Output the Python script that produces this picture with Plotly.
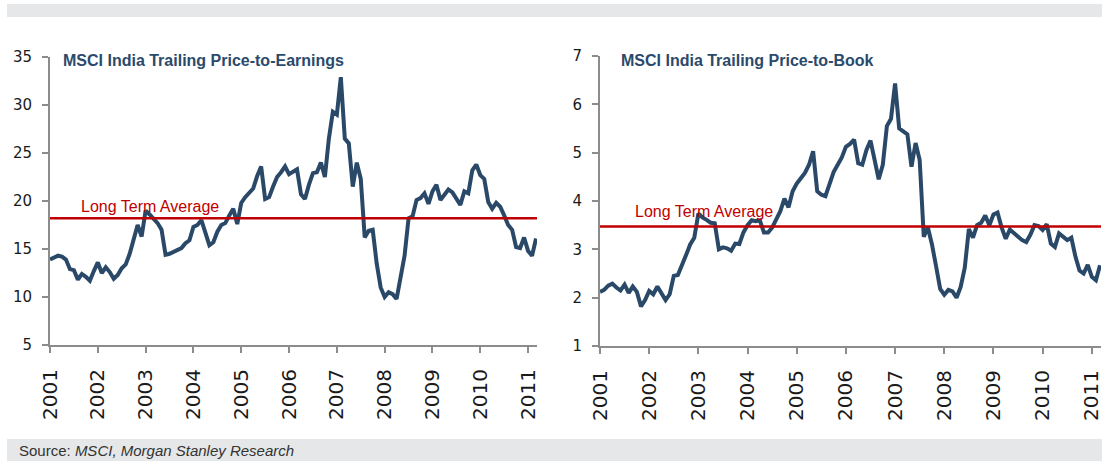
import plotly.graph_objects as go
import pandas as pd

# ---------------- data ----------------
months = pd.date_range("2001-01-01", "2011-03-01", freq="MS")

pe_values = [
    13.9, 14.1, 14.3, 14.2, 13.9, 12.9, 12.8, 11.8, 12.4, 12.1, 11.7, 12.7,
    13.6, 12.5, 13.1, 12.6, 11.9, 12.3, 13.0, 13.4, 14.5, 16.0, 17.5, 16.3,
    19.0, 18.6, 18.2, 17.7, 17.0, 14.4, 14.5, 14.7, 14.9, 15.1, 15.6, 15.9,
    17.3, 17.5, 18.0, 16.6, 15.4, 15.7, 16.8, 17.5, 17.7, 18.5, 19.2, 17.6,
    19.8, 20.4, 20.9, 21.3, 22.6, 23.6, 20.2, 20.4, 21.5, 22.5, 23.0, 23.6,
    22.8, 23.1, 23.3, 20.7, 20.2, 21.7, 22.9, 23.0, 24.0, 22.5, 26.5, 29.3,
    29.0, 32.9, 26.5, 26.0, 21.5, 24.0, 22.3, 16.2, 16.9, 17.0, 13.5, 11.0,
    10.0, 10.5, 10.3, 9.8, 12.0, 14.3, 18.2, 18.4, 20.1, 20.3, 20.8, 19.7,
    21.0, 21.7, 20.1, 20.6, 21.2, 20.9, 20.2, 19.6, 21.0, 20.8, 23.2, 23.8,
    22.7, 22.3, 19.9, 19.2, 19.8, 19.4, 18.5, 17.5, 17.0, 15.2, 15.1, 16.2,
    14.8, 14.3, 16.1,
]

pb_values = [
    2.12, 2.16, 2.25, 2.29, 2.21, 2.15, 2.27, 2.10, 2.23, 2.12, 1.82, 1.95,
    2.14, 2.07, 2.23, 2.10, 1.95, 2.07, 2.45, 2.47, 2.70, 2.88, 3.10, 3.24,
    3.74, 3.66, 3.61, 3.55, 3.54, 3.00, 3.04, 3.02, 2.97, 3.12, 3.11, 3.35,
    3.50, 3.60, 3.58, 3.60, 3.35, 3.35, 3.45, 3.62, 3.79, 4.05, 3.87, 4.20,
    4.36, 4.47, 4.58, 4.75, 5.03, 4.20, 4.13, 4.10, 4.35, 4.60, 4.75, 4.90,
    5.12, 5.18, 5.27, 4.78, 4.75, 5.05, 5.25, 4.85, 4.45, 4.75, 5.55, 5.70,
    6.43, 5.50, 5.43, 5.38, 4.71, 5.20, 4.85, 3.26, 3.45, 3.10, 2.65, 2.18,
    2.06, 2.16, 2.13, 2.00, 2.22, 2.62, 3.42, 3.24, 3.50, 3.55, 3.70, 3.50,
    3.72, 3.76, 3.45, 3.22, 3.41, 3.34, 3.25, 3.19, 3.15, 3.30, 3.50, 3.48,
    3.40, 3.52, 3.12, 3.05, 3.33, 3.25, 3.19, 3.24, 2.85, 2.56, 2.50, 2.68,
    2.43, 2.36, 2.67,
]

pe_long_term_avg = 18.2
pb_long_term_avg = 3.47

year_ticks = list(range(2001, 2012))
year_labels = [str(y) for y in year_ticks]

pe_title = "MSCI India Trailing Price-to-Earnings"
pb_title = "MSCI India Trailing Price-to-Book"
avg_label = "Long Term Average"
source_text = "Source: <i>MSCI, Morgan Stanley Research</i>"

# --------------- figure ----------------
W, H = 1102, 461
x_num = [m.year + (m.month - 1) / 12 for m in months]

LINE_COLOR = "#2a4968"
RED = "#c00000"
AXIS_COLOR = "#8c8c8c"
X_TICK_FONT = dict(family="DejaVu Sans, Liberation Sans, sans-serif", size=20, color="#1a1a1a")
Y_TICK_FONT = dict(family="DejaVu Sans, Liberation Sans, sans-serif", size=15, color="#1a1a1a")
TITLE_FONT = dict(family="Liberation Sans Narrow, Arial Narrow, Liberation Sans, sans-serif",
                  size=16, color="#2b4a6b")
LABEL_FONT = dict(family="Liberation Sans, Arial, sans-serif", size=16, color=RED)

def px_x(p):
    return p / W

def px_y(p):
    return 1 - p / H

fig = go.Figure()

x_end = x_num[-1]

fig.add_trace(go.Scatter(x=x_num, y=pe_values, mode="lines",
                         line=dict(color=LINE_COLOR, width=4),
                         xaxis="x", yaxis="y", showlegend=False))
fig.add_trace(go.Scatter(x=[2001, x_end + 0.02], y=[pe_long_term_avg] * 2, mode="lines",
                         line=dict(color=RED, width=2.5),
                         xaxis="x", yaxis="y", showlegend=False))
fig.add_trace(go.Scatter(x=x_num, y=pb_values, mode="lines",
                         line=dict(color=LINE_COLOR, width=4),
                         xaxis="x2", yaxis="y2", showlegend=False))
fig.add_trace(go.Scatter(x=[2001, x_end + 0.02], y=[pb_long_term_avg] * 2, mode="lines",
                         line=dict(color=RED, width=2.5),
                         xaxis="x2", yaxis="y2", showlegend=False))

common_x = dict(tickmode="array", tickvals=year_ticks, ticktext=year_labels,
                tickangle=-90, ticks="outside", ticklen=6, tickwidth=2,
                tickcolor=AXIS_COLOR, showline=True, linecolor=AXIS_COLOR,
                linewidth=2, showgrid=False, zeroline=False, tickfont=X_TICK_FONT,
                ticklabelstandoff=8, ticklabeloverflow="allow", automargin=False,
                range=[2001, x_end + 0.02], fixedrange=True)
common_y = dict(ticks="outside", ticklen=6, tickwidth=2, tickcolor=AXIS_COLOR,
                showline=True, linecolor=AXIS_COLOR, linewidth=2, showgrid=False,
                zeroline=False, tickfont=Y_TICK_FONT, ticklabelstandoff=7,
                automargin=False, fixedrange=True)

fig.update_layout(
    template="none",
    width=W, height=H,
    margin=dict(l=0, r=0, t=0, b=0, autoexpand=False),
    paper_bgcolor="white", plot_bgcolor="white",
    hovermode=False,
    xaxis=dict(domain=[px_x(50), px_x(537)], anchor="y", **common_x),
    yaxis=dict(domain=[px_y(345), px_y(57)], anchor="x", range=[5, 35],
               tickvals=[5, 10, 15, 20, 25, 30, 35], **common_y),
    xaxis2=dict(domain=[px_x(600), px_x(1101)], anchor="y2", **common_x),
    yaxis2=dict(domain=[px_y(346), px_y(56)], anchor="x2", range=[1, 7],
                tickvals=[1, 2, 3, 4, 5, 6, 7], **common_y),
    shapes=[
        dict(type="rect", xref="paper", yref="paper",
             x0=px_x(7), x1=1, y0=px_y(17), y1=px_y(4),
             fillcolor="#e6e7e8", line=dict(width=0), layer="below"),
        dict(type="rect", xref="paper", yref="paper",
             x0=px_x(7), x1=1, y0=0, y1=px_y(439),
             fillcolor="#e6e7e8", line=dict(width=0), layer="below"),
    ],
    annotations=[
        dict(text=f"<b>{pe_title}</b>", xref="paper", yref="paper",
             x=px_x(61), y=px_y(60), xanchor="left", yanchor="middle",
             showarrow=False, font=TITLE_FONT),
        dict(text=f"<b>{pb_title}</b>", xref="paper", yref="paper",
             x=px_x(619), y=px_y(61), xanchor="left", yanchor="middle",
             showarrow=False, font=TITLE_FONT),
        dict(text=avg_label, xref="paper", yref="paper",
             x=px_x(79), y=px_y(206), xanchor="left", yanchor="middle",
             showarrow=False, font=LABEL_FONT),
        dict(text=avg_label, xref="paper", yref="paper",
             x=px_x(633), y=px_y(211), xanchor="left", yanchor="middle",
             showarrow=False, font=LABEL_FONT),
        dict(text=source_text, xref="paper", yref="paper",
             x=px_x(17), y=px_y(450), xanchor="left", yanchor="middle",
             showarrow=False, font=dict(family="Liberation Sans, Arial, sans-serif",
                                        size=15, color="#333333")),
    ],
)

fig.write_html(
    "out.html",
    config={"displayModeBar": False, "staticPlot": True},
    post_script="document.body.style.margin='0';document.body.style.overflow='hidden';",
)
